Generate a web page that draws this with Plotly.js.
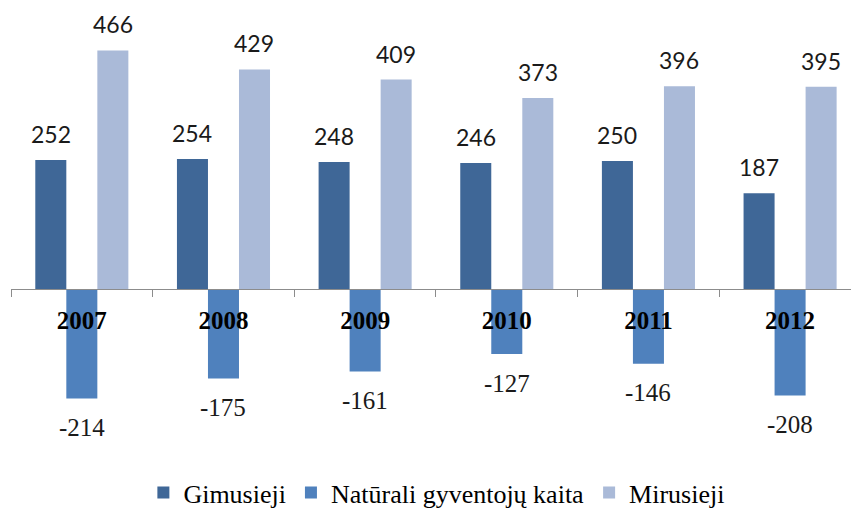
<!DOCTYPE html>
<html>
<head>
<meta charset="utf-8">
<script src="https://cdn.plot.ly/plotly-3.0.1.min.js"></script>
<style>html,body{margin:0;padding:0;background:#fff;overflow:hidden;}#wrap{width:851px;height:508px;overflow:hidden;}</style>
</head>
<body>
<div id="wrap"><div id="chart"></div></div>
<script>
const years = ['2007', '2008', '2009', '2010', '2011', '2012'];
const seriesNames = ['Gimusieji', 'Natūrali gyventojų kaita', 'Mirusieji'];
const gimusieji = [252, 254, 248, 246, 250, 187];
const naturaliKaita = [-214, -175, -161, -127, -146, -208];
const mirusieji = [466, 429, 409, 373, 396, 395];

const colors = ['#3F6797', '#4F81BD', '#AABAD8'];
const seriesValues = [gimusieji, naturaliKaita, mirusieji];

const SERIF = 'Liberation Serif, Times New Roman, serif';
const SANS = 'Lato, Liberation Sans, sans-serif';
const FIG_H = 516;
const yLow = -443.4, yHigh = 545;

const traces = seriesValues.map((vals, i) => ({
  type: 'bar',
  name: seriesNames[i],
  x: years,
  y: vals,
  marker: {color: colors[i], line: {width: 0}},
  hoverinfo: 'none'
}));

const offsets = [-31, 0, 31];
const annotations = [];
seriesValues.forEach((vals, i) => {
  vals.forEach((v, j) => {
    const pos = v >= 0;
    annotations.push({
      x: j, y: v, xref: 'x', yref: 'y',
      text: String(v),
      showarrow: false,
      xshift: offsets[i],
      yshift: pos ? 26 : -29,
      xanchor: 'center', yanchor: 'middle',
      font: {family: pos ? SANS : SERIF, size: pos ? 23 : 25, color: '#1a1a1a'}
    });
  });
});

const layout = {
  width: 851, height: FIG_H,
  margin: {l: 11, r: 0, t: 10, b: 0},
  paper_bgcolor: '#ffffff', plot_bgcolor: '#ffffff',
  font: {family: SERIF, size: 26, color: '#000'},
  barmode: 'group', bargap: 0.343, bargroupgap: 0,
  xaxis: {
    type: 'category',
    range: [-0.5, 5.43],
    anchor: 'free',
    position: -yLow / (yHigh - yLow),
    showline: true, linecolor: '#8C8C8C', linewidth: 1,
    ticks: 'outside', ticklen: 7, tickcolor: '#8C8C8C', tickwidth: 1,
    tickson: 'boundaries',
    showgrid: false, zeroline: false,
    ticklabelstandoff: 9,
    tickfont: {family: SERIF, size: 25, color: '#000', weight: 'bold'}
  },
  yaxis: {
    range: [yLow, yHigh],
    visible: false, showgrid: false, zeroline: false
  },
  legend: {
    orientation: 'h',
    x: 0.507, xanchor: 'center',
    y: 0, yanchor: 'bottom',
    font: {family: SERIF, size: 26, color: '#000'}
  },
  annotations: annotations
};

Plotly.newPlot('chart', traces, layout, {displayModeBar: false, staticPlot: true})
  .then(gd => (document.fonts ? document.fonts.ready : Promise.resolve()).then(() =>
    Plotly.relayout(gd, {'legend.font.family': SERIF, 'legend.font.size': 26})));
</script>
</body>
</html>
